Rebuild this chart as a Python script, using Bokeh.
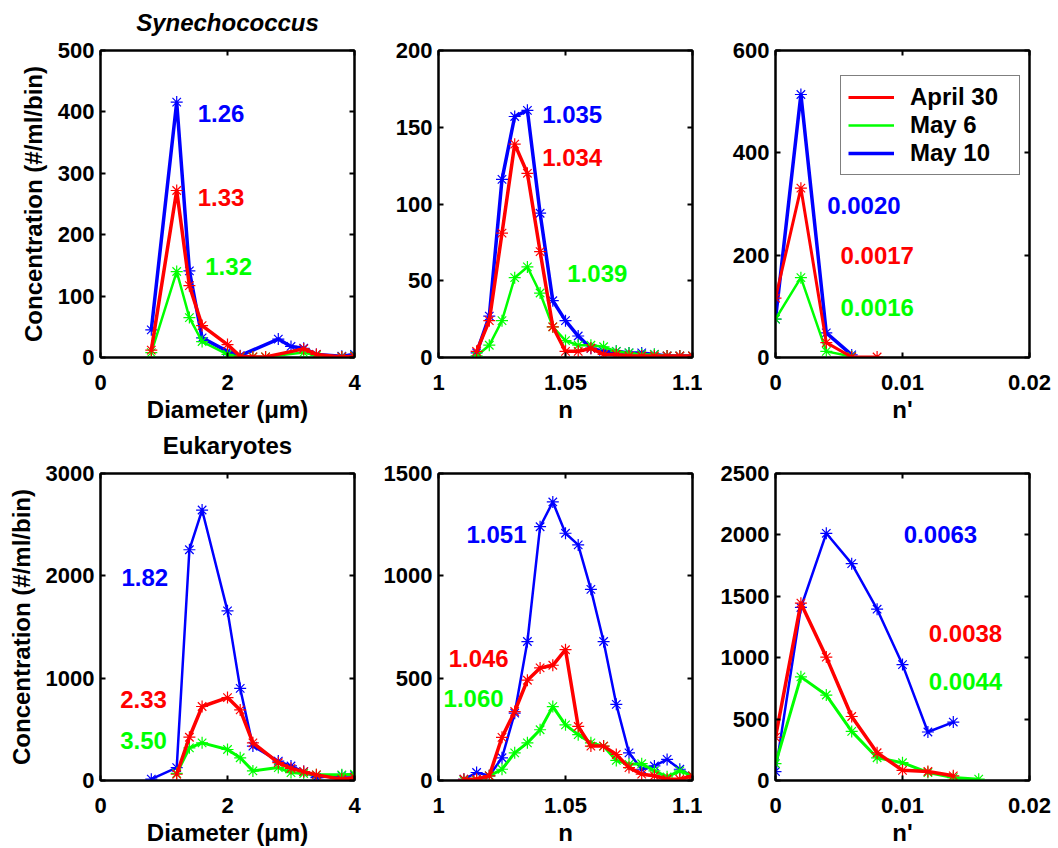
from bokeh.plotting import figure
from bokeh.layouts import column, row
from bokeh.models import (Range1d, FixedTicker, LinearAxis, CustomJSTickFormatter,
                          Legend, LegendItem, ColumnDataSource)
from bokeh.core.properties import value
from bokeh.embed import file_html
from bokeh.resources import INLINE

# ---------------- data ----------------
series_labels = ["April 30", "May 6", "May 10"]

# Synechococcus vs diameter
syn_diam_apr30_x = [0.8, 1.2, 1.4, 1.6, 2.0, 2.2, 2.4, 2.6, 3.2, 3.4, 3.8, 4.0]
syn_diam_apr30_y = [12, 272, 117, 52, 21, 2, 1, 1, 14, 5, 1, 2]
syn_diam_may6_x = [0.8, 1.2, 1.4, 1.6, 2.0, 2.2, 2.4, 2.6, 3.2, 3.4, 3.8, 4.0]
syn_diam_may6_y = [8, 140, 65, 26, 5, 1, 1, 1, 8, 3, 1, 3]
syn_diam_may10_x = [0.8, 1.2, 1.4, 1.6, 2.0, 2.2, 2.8, 3.0, 3.2, 3.4, 3.8, 4.0]
syn_diam_may10_y = [45, 416, 141, 32, 10, 3, 30, 18, 15, 5, 2, 5]

# Synechococcus vs n
syn_n_x = [1.015, 1.02, 1.025, 1.03, 1.035, 1.04, 1.045, 1.05, 1.055, 1.06,
           1.065, 1.07, 1.075, 1.08, 1.085, 1.09, 1.095, 1.1]
syn_n_apr30 = [4, 24, 81, 139, 120, 69, 20, 4, 4, 6, 2, 2, 1, 1, 1, 1, 1, 1]
syn_n_may6 = [1, 8, 24, 52, 59, 42, 20, 11, 8, 8, 7, 4, 3, 2, 2, 1, 1, 1]
syn_n_may10 = [3, 27, 116, 157, 161, 94, 37, 24, 14, 6, 4, 4, 3, 3, 2, 1, 1, 1]

# Synechococcus vs n'
syn_np_apr30_x = [0, 0.002, 0.004, 0.006, 0.008]
syn_np_apr30_y = [116, 331, 29, 1, 1]
syn_np_may6_x = [0, 0.002, 0.004, 0.006]
syn_np_may6_y = [75, 156, 12, 2]
syn_np_may10_x = [0, 0.002, 0.004, 0.006]
syn_np_may10_y = [75, 514, 48, 5]

# Eukaryotes vs diameter
euk_diam_apr30_x = [1.2, 1.4, 1.6, 2.0, 2.2, 2.4, 2.8, 3.0, 3.2, 3.4, 3.8, 4.0]
euk_diam_apr30_y = [61, 423, 723, 810, 690, 368, 174, 119, 87, 55, 13, 29]
euk_diam_may6_x = [1.2, 1.4, 1.6, 2.0, 2.2, 2.4, 2.8, 3.0, 3.2, 3.4, 3.8, 4.0]
euk_diam_may6_y = [70, 319, 368, 303, 222, 94, 126, 77, 68, 55, 55, 61]
euk_diam_may10_x = [0.8, 1.2, 1.4, 1.6, 2.0, 2.2, 2.4, 2.8, 3.0, 3.2, 3.4, 3.8, 4.0]
euk_diam_may10_y = [13, 126, 2255, 2643, 1658, 900, 336, 190, 142, 87, 29, 48, 48]

# Eukaryotes vs n
euk_n_x = [1.01, 1.015, 1.02, 1.025, 1.03, 1.035, 1.04, 1.045, 1.05, 1.055,
           1.06, 1.065, 1.07, 1.075, 1.08, 1.085, 1.09, 1.095, 1.1]
euk_n_apr30 = [6, 6, 23, 211, 337, 490, 550, 563, 639, 264, 168, 168, 127, 63, 31, 23, 6, 6, 23]
euk_n_may6 = [0, 0, 23, 55, 135, 184, 248, 361, 272, 224, 184, 168, 98, 79, 82, 47, 18, 47, 23]
euk_n_may10 = [6, 39, 23, 111, 329, 679, 1240, 1361, 1208, 1151, 934, 679, 372, 135, 55, 71, 103, 55, 23]

# Eukaryotes vs n'
euk_np_apr30_x = [0, 0.002, 0.004, 0.006, 0.008, 0.010, 0.012, 0.014]
euk_np_apr30_y = [352, 1444, 1005, 521, 226, 83, 73, 38]
euk_np_may6_x = [0, 0.002, 0.004, 0.006, 0.008, 0.010, 0.012, 0.014, 0.016]
euk_np_may6_y = [137, 844, 696, 400, 185, 145, 65, 24, 11]
euk_np_may10_x = [0, 0.002, 0.004, 0.006, 0.008, 0.010, 0.012, 0.014]
euk_np_may10_y = [73, 1409, 2013, 1766, 1395, 944, 395, 476]

# annotation values (mean values per date) : May 10, April 30, May 6
syn_diam_ann = ["1.26", "1.33", "1.32"]
syn_n_ann = ["1.035", "1.034", "1.039"]
syn_np_ann = ["0.0020", "0.0017", "0.0016"]
euk_diam_ann = ["1.82", "2.33", "3.50"]
euk_n_ann = ["1.051", "1.046", "1.060"]
euk_np_ann = ["0.0063", "0.0038", "0.0044"]

# annotation anchor positions (data coords, left edge / middle)
syn_diam_ann_x = [1.53, 1.53, 1.65]
syn_diam_ann_y = [398, 260, 148]
syn_n_ann_x = [1.0408, 1.0408, 1.0507]
syn_n_ann_y = [158, 130, 55]
syn_np_ann_x = [0.00407, 0.00512, 0.00512]
syn_np_ann_y = [298, 200, 97]
euk_diam_ann_x = [0.33, 0.31, 0.31]
euk_diam_ann_y = [1985, 787, 390]
euk_n_ann_x = [1.011, 1.004, 1.002]
euk_n_ann_y = [1200, 598, 401]
euk_np_ann_x = [0.0101, 0.01207, 0.01207]
euk_np_ann_y = [2000, 1194, 804]

# ---------------- styling ----------------
FONT = "Liberation Sans"
RED, GREEN, BLUE = "#ff0000", "#00ff00", "#0000ff"
ANN_COLORS = [BLUE, RED, GREEN]
TICK_FMT = "return tick.toString();"


def style_axis(ax, ticks, show_labels, standoff):
    ax.ticker = FixedTicker(ticks=ticks)
    ax.major_tick_in = 5
    ax.major_tick_out = 0
    ax.minor_tick_line_color = None
    ax.major_tick_line_width = 2
    ax.major_tick_line_color = "black"
    ax.axis_line_width = 2
    ax.axis_line_color = "black"
    ax.major_label_text_font = FONT
    ax.major_label_text_font_style = "bold"
    if show_labels:
        ax.formatter = CustomJSTickFormatter(code=TICK_FMT)
        ax.major_label_text_color = "black"
        ax.major_label_text_font_size = "22px"
        ax.major_label_standoff = standoff
    else:
        ax.major_label_text_color = None
        ax.major_label_text_font_size = "0px"
        ax.major_label_standoff = 0


def label_style(ax, text, style, standoff):
    ax.axis_label = text
    ax.axis_label_text_font = FONT
    ax.axis_label_text_font_style = style
    ax.axis_label_text_font_size = "24px"
    ax.axis_label_text_color = "black"
    ax.axis_label_standoff = standoff


def panel(width, height, borders, xr, yr, xticks, yticks, xlabel, ylabel=None,
          title=None, title_style="bold"):
    l, r, t, b = borders
    p = figure(width=width, height=height, x_range=Range1d(*xr), y_range=Range1d(*yr),
               output_backend="svg", toolbar_location=None, title=None,
               min_border_left=l, min_border_right=r, min_border_top=t, min_border_bottom=b)
    p.xgrid.grid_line_color = None
    p.ygrid.grid_line_color = None
    p.outline_line_color = "black"
    p.outline_line_width = 2
    p.background_fill_color = "white"
    p.border_fill_color = "white"
    bx = p.below[0]
    ly = p.left[0]
    style_axis(bx, xticks, True, 17)
    style_axis(ly, yticks, True, 6)
    label_style(bx, xlabel, "bold", 3)
    if ylabel:
        label_style(ly, ylabel, "bold", 8)
    top_ax = LinearAxis()
    style_axis(top_ax, xticks, False, 0)
    if title:
        label_style(top_ax, title, title_style, 15)
    p.add_layout(top_ax, "above")
    right_ax = LinearAxis()
    style_axis(right_ax, yticks, False, 0)
    p.add_layout(right_ax, "right")
    return p


def add_series(p, xs, ys, color, lw):
    ln = p.line(xs, ys, line_color=color, line_width=lw)
    p.scatter(xs, ys, marker="asterisk", size=12, line_color=color, line_width=1.2)
    return ln


def add_ann(p, texts, xs, ys):
    src = ColumnDataSource(dict(x=xs, y=ys, text=texts, color=ANN_COLORS))
    p.text(x="x", y="y", text="text", source=src, text_color="color",
           text_font=value(FONT), text_font_style="bold", text_font_size="24px",
           text_align="left", text_baseline="middle")


# figure sizes (page has no margin: figures start at 0,0)
W = [364, 338, 356]
B = [(100, 10), (74, 10), (73, 29)]
TB1 = (50, 67)
TB2 = (48, 67)
H1 = TB1[0] + 308 + TB1[1]
H2 = TB2[0] + 308 + TB2[1]

diam_ticks = [0, 2, 4]
n_ticks = [1, 1.05, 1.1]
np_ticks = [0, 0.01, 0.02]
ylab = "Concentration (#/ml/bin)"

# ---- top row ----
p1 = panel(W[0], H1, (B[0][0], B[0][1], TB1[0], TB1[1]), (0, 4), (0, 500), diam_ticks,
           [0, 100, 200, 300, 400, 500], "Diameter (\u03bcm)", ylab,
           title="Synechococcus", title_style="bold italic")
add_series(p1, syn_diam_may10_x, syn_diam_may10_y, BLUE, 3.5)
add_series(p1, syn_diam_may6_x, syn_diam_may6_y, GREEN, 2.5)
add_series(p1, syn_diam_apr30_x, syn_diam_apr30_y, RED, 3.5)
add_ann(p1, syn_diam_ann, syn_diam_ann_x, syn_diam_ann_y)

p2 = panel(W[1], H1, (B[1][0], B[1][1], TB1[0], TB1[1]), (1, 1.1), (0, 200), n_ticks,
           [0, 50, 100, 150, 200], "n")
add_series(p2, syn_n_x, syn_n_may10, BLUE, 3.5)
add_series(p2, syn_n_x, syn_n_may6, GREEN, 2.5)
add_series(p2, syn_n_x, syn_n_apr30, RED, 3.5)
add_ann(p2, syn_n_ann, syn_n_ann_x, syn_n_ann_y)

p3 = panel(W[2], H1, (B[2][0], B[2][1], TB1[0], TB1[1]), (0, 0.02), (0, 600), np_ticks,
           [0, 200, 400, 600], "n'")
l_blue = add_series(p3, syn_np_may10_x, syn_np_may10_y, BLUE, 3.5)
l_green = add_series(p3, syn_np_may6_x, syn_np_may6_y, GREEN, 2.5)
l_red = add_series(p3, syn_np_apr30_x, syn_np_apr30_y, RED, 3.0)
add_ann(p3, syn_np_ann, syn_np_ann_x, syn_np_ann_y)
legend = Legend(items=[LegendItem(label=series_labels[0], renderers=[l_red]),
                       LegendItem(label=series_labels[1], renderers=[l_green]),
                       LegendItem(label=series_labels[2], renderers=[l_blue])],
                location=(65, 182))
legend.label_text_font = FONT
legend.label_text_font_style = "bold"
legend.label_text_font_size = "24px"
legend.label_text_color = "black"
legend.border_line_color = "black"
legend.border_line_width = 1
legend.background_fill_color = "white"
legend.background_fill_alpha = 1.0
legend.padding = 7
legend.spacing = 0
legend.margin = 0
legend.glyph_width = 46
legend.glyph_height = 24
legend.label_height = 24
legend.label_width = 102
legend.label_standoff = 16
p3.add_layout(legend)

# ---- bottom row ----
p4 = panel(W[0], H2, (B[0][0], B[0][1], TB2[0], TB2[1]), (0, 4), (0, 3000), diam_ticks,
           [0, 1000, 2000, 3000], "Diameter (\u03bcm)", ylab, title="Eukaryotes")
add_series(p4, euk_diam_may10_x, euk_diam_may10_y, BLUE, 2.5)
add_series(p4, euk_diam_may6_x, euk_diam_may6_y, GREEN, 3.0)
add_series(p4, euk_diam_apr30_x, euk_diam_apr30_y, RED, 3.5)
add_ann(p4, euk_diam_ann, euk_diam_ann_x, euk_diam_ann_y)

p5 = panel(W[1], H2, (B[1][0], B[1][1], TB2[0], TB2[1]), (1, 1.1), (0, 1500), n_ticks,
           [0, 500, 1000, 1500], "n")
add_series(p5, euk_n_x, euk_n_may10, BLUE, 2.5)
add_series(p5, euk_n_x, euk_n_may6, GREEN, 3.0)
add_series(p5, euk_n_x, euk_n_apr30, RED, 3.5)
add_ann(p5, euk_n_ann, euk_n_ann_x, euk_n_ann_y)

p6 = panel(W[2], H2, (B[2][0], B[2][1], TB2[0], TB2[1]), (0, 0.02), (0, 2500), np_ticks,
           [0, 500, 1000, 1500, 2000, 2500], "n'")
add_series(p6, euk_np_may10_x, euk_np_may10_y, BLUE, 2.5)
add_series(p6, euk_np_may6_x, euk_np_may6_y, GREEN, 3.0)
add_series(p6, euk_np_apr30_x, euk_np_apr30_y, RED, 3.5)
add_ann(p6, euk_np_ann, euk_np_ann_x, euk_np_ann_y)

layout = column(row(p1, p2, p3), row(p4, p5, p6))
open("out.html", "w").write(file_html(layout, INLINE))
